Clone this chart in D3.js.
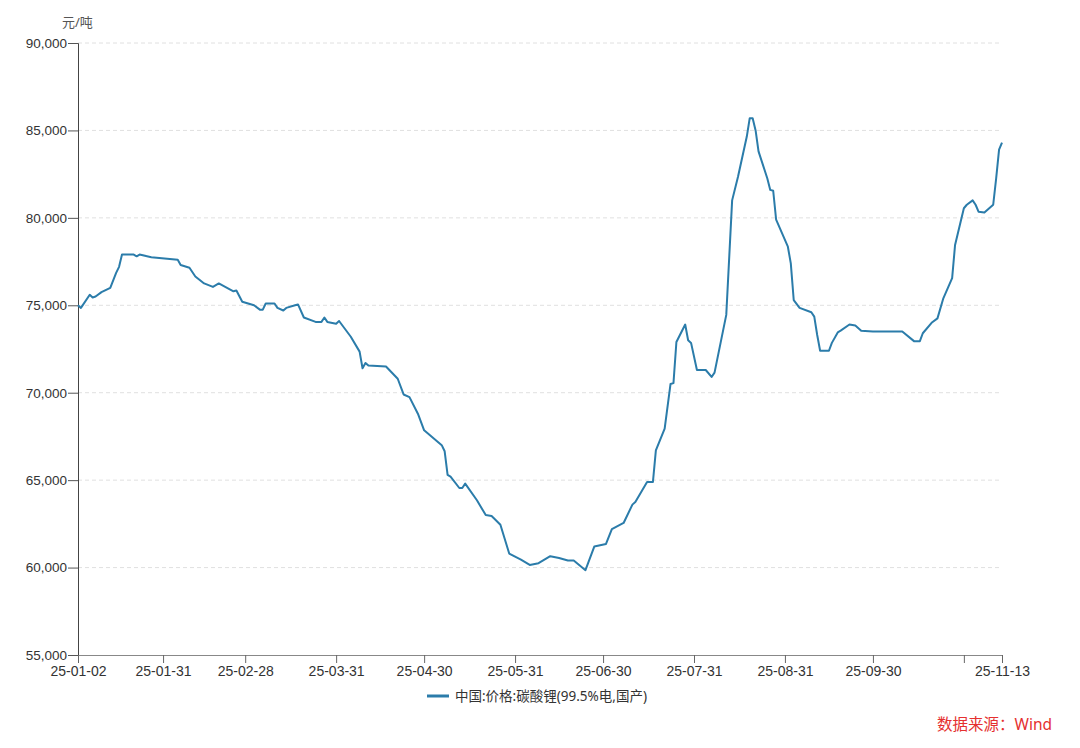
<!DOCTYPE html>
<html><head><meta charset="utf-8">
<script src="https://cdn.jsdelivr.net/npm/d3@7/dist/d3.min.js"></script>
<style>
html,body{margin:0;padding:0;background:#fff;}
svg{display:block;font-family:"Noto Sans","Noto Sans CJK SC",sans-serif;}
</style></head>
<body>
<svg id="chart" width="1080" height="748"></svg>
<script>
const dates = ["2025-01-02","2025-01-03","2025-01-06","2025-01-07","2025-01-08","2025-01-10","2025-01-13","2025-01-15","2025-01-16","2025-01-17","2025-01-21","2025-01-22","2025-01-23","2025-01-27","2025-02-05","2025-02-06","2025-02-09","2025-02-11","2025-02-14","2025-02-17","2025-02-19","2025-02-24","2025-02-25","2025-02-27","2025-03-03","2025-03-05","2025-03-06","2025-03-07","2025-03-10","2025-03-11","2025-03-13","2025-03-14","2025-03-17","2025-03-18","2025-03-20","2025-03-24","2025-03-26","2025-03-27","2025-03-28","2025-03-31","2025-04-01","2025-04-05","2025-04-08","2025-04-09","2025-04-10","2025-04-11","2025-04-17","2025-04-21","2025-04-23","2025-04-25","2025-04-28","2025-04-30","2025-05-06","2025-05-07","2025-05-08","2025-05-09","2025-05-12","2025-05-13","2025-05-14","2025-05-18","2025-05-21","2025-05-23","2025-05-26","2025-05-29","2025-06-02","2025-06-05","2025-06-08","2025-06-12","2025-06-15","2025-06-18","2025-06-20","2025-06-24","2025-06-27","2025-07-01","2025-07-03","2025-07-07","2025-07-10","2025-07-11","2025-07-15","2025-07-17","2025-07-18","2025-07-21","2025-07-23","2025-07-24","2025-07-25","2025-07-28","2025-07-29","2025-07-30","2025-08-01","2025-08-04","2025-08-06","2025-08-07","2025-08-11","2025-08-13","2025-08-15","2025-08-18","2025-08-19","2025-08-20","2025-08-21","2025-08-22","2025-08-25","2025-08-26","2025-08-27","2025-08-28","2025-09-01","2025-09-02","2025-09-03","2025-09-05","2025-09-09","2025-09-10","2025-09-11","2025-09-12","2025-09-15","2025-09-16","2025-09-18","2025-09-19","2025-09-22","2025-09-24","2025-09-26","2025-09-30","2025-10-10","2025-10-14","2025-10-16","2025-10-17","2025-10-20","2025-10-22","2025-10-24","2025-10-27","2025-10-28","2025-10-31","2025-11-01","2025-11-03","2025-11-04","2025-11-05","2025-11-07","2025-11-10","2025-11-11","2025-11-12","2025-11-13"];
const prices = [75000,74850,75600,75450,75500,75750,76000,76850,77200,77900,77900,77800,77900,77750,77600,77300,77150,76650,76250,76050,76250,75800,75850,75200,75000,74750,74750,75100,75100,74850,74700,74850,75000,75050,74300,74050,74050,74300,74050,73950,74100,73200,72350,71400,71700,71550,71500,70800,69900,69750,68750,67850,67000,66650,65300,65200,64550,64550,64800,63850,63000,62950,62450,60800,60450,60150,60250,60650,60550,60400,60400,59850,61200,61350,62200,62550,63600,63750,64900,64900,66700,67950,70500,70550,72900,73900,73000,72850,71300,71300,70900,71150,74450,81000,82350,84650,85700,85700,85000,83800,82250,81600,81550,79900,78350,77400,75300,74850,74600,74350,73300,72400,72400,72850,73450,73550,73900,73850,73550,73500,73500,72950,72950,73400,74000,74250,75400,76550,78450,80550,80750,81000,80750,80350,80300,80750,82250,83900,84300];
const yTicks = [55000,60000,65000,70000,75000,80000,85000,90000];
const xTickDates = ["2025-01-02","2025-01-31","2025-02-28","2025-03-31","2025-04-30","2025-05-31","2025-06-30","2025-07-31","2025-08-31","2025-09-30","2025-10-31","2025-11-13"];
const xTickLabels = ["25-01-02","25-01-31","25-02-28","25-03-31","25-04-30","25-05-31","25-06-30","25-07-31","25-08-31","25-09-30","","25-11-13"];
const unitLabel = "元/吨";
const seriesName = "中国:价格:碳酸锂(99.5%电,国产)";
const sourceText = "数据来源：Wind";

(function(){
const parse = d3.timeParse("%Y-%m-%d");
const data = dates.map((d,i)=>({date:parse(d), value:prices[i]}));

const svg = d3.select("#chart");
const mL = 78, mR = 1002, mT = 43, mB = 655;
const x = d3.scaleTime().domain([parse(dates[0]), parse(dates[dates.length-1])]).range([mL, mR]);
const y = d3.scaleLinear().domain([55000, 90000]).range([mB, mT]);
const textColor = "#333";
const lineColor = "#2b7caa";

// grid
svg.append("g").selectAll("line").data(yTicks.filter(v=>v>55000)).join("line")
  .attr("x1", mL).attr("x2", mR)
  .attr("y1", d=>y(d)).attr("y2", d=>y(d))
  .attr("stroke", "#e0e0e0").attr("stroke-dasharray", "4,3").attr("stroke-width",1);

// y axis
const yAxis = svg.append("g").attr("transform", `translate(${mL},0)`)
  .call(d3.axisLeft(y).tickValues(yTicks).tickFormat(d3.format(",")).tickSize(10).tickPadding(1));
yAxis.select(".domain").attr("stroke", "#444");
yAxis.selectAll(".tick line").attr("stroke", "#555");
yAxis.selectAll("text").attr("fill", textColor).attr("font-size", 13.5);

// x axis
const xAxis = svg.append("g").attr("transform", `translate(0,${mB})`)
  .call(d3.axisBottom(x).tickValues(xTickDates.map(parse)).tickFormat((d,i)=>xTickLabels[i]).tickSize(8).tickSizeOuter(0).tickPadding(3));
xAxis.select(".domain").attr("stroke", "#888");
xAxis.selectAll(".tick line").attr("stroke", "#666");
xAxis.selectAll("text").attr("fill", textColor).attr("font-size", 14);

// unit
svg.append("text").attr("x", 62).attr("y", 27).attr("fill", "#555").attr("font-size", 13).text(unitLabel);

// line
const line = d3.line().x(d=>x(d.date)).y(d=>y(d.value)).curve(d3.curveLinear);
svg.append("path").datum(data).attr("d", line)
  .attr("fill","none").attr("stroke",lineColor).attr("stroke-width",2).attr("stroke-linejoin","round");

// legend
svg.append("line").attr("x1", 427).attr("x2", 449).attr("y1", 696).attr("y2", 696)
  .attr("stroke",lineColor).attr("stroke-width",3);
svg.append("text").attr("x", 455).attr("y", 700.5).attr("fill", textColor).attr("font-size", 13.5).text(seriesName);

// source
svg.append("text").attr("x", 1052).attr("y", 730).attr("text-anchor","end").attr("fill", "#e5302f").attr("font-size", 15.5).text(sourceText);
})();
</script>
</body></html>
